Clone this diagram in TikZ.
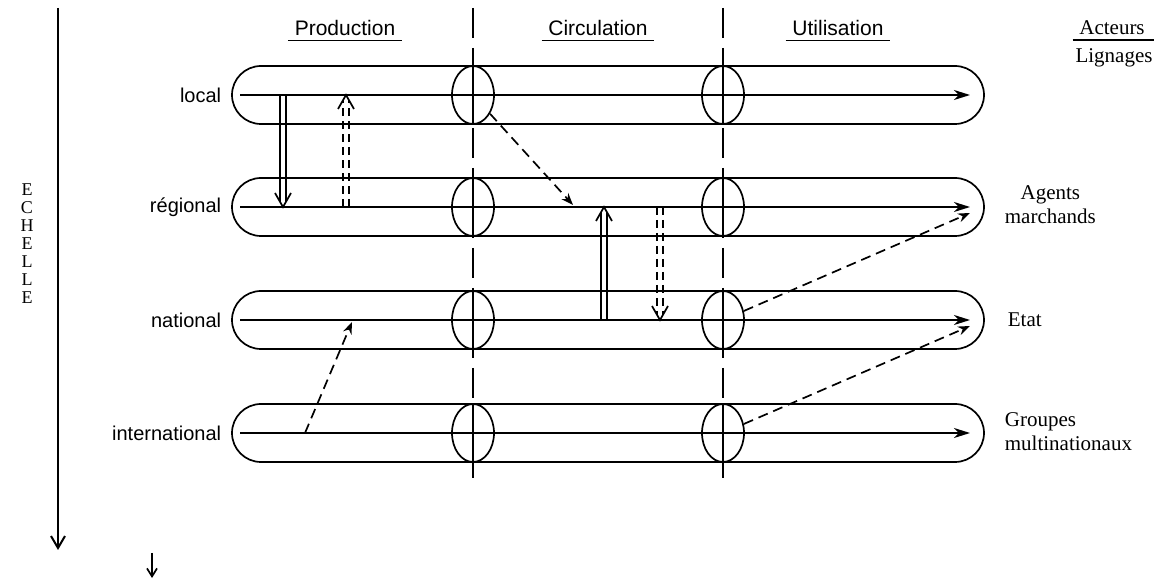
\documentclass[tikz,border=0pt]{standalone}
\usepackage{fontspec}
\setmainfont{Liberation Serif}
\setsansfont{Liberation Sans}
\usetikzlibrary{arrows.meta,shapes.geometric,calc}

% vertical arrow with a doubled shaft and an open V head
\newcommand\twinarrow[3]{%
  \draw[#1] ($(#2)+(-3,0)$) -- ($(#3)!2.6pt!(#2)+(-3,0)$);
  \draw[#1] ($(#2)+(3,0)$) -- ($(#3)!2.6pt!(#2)+(3,0)$);
  \draw[solid] ($(#3)!7pt!(#2)+(-8,0)$) -- (#3) -- ($(#3)!7pt!(#2)+(8,0)$);
}

\begin{document}
\begin{tikzpicture}[x=0.5pt,y=-0.5pt,
  line width=0.85pt,
  lane/.style={draw, rounded corners=14.5pt, minimum width=376pt,
    minimum height=29pt, inner sep=0pt},
  hub/.style={draw, ellipse, minimum width=21pt, minimum height=29pt, inner sep=0pt},
  flow/.style={-{Stealth[length=8pt,width=5pt,inset=2.5pt]}},
  link/.style={dash pattern=on 5pt off 3pt,
    -{Stealth[length=6pt,width=4.5pt,inset=2pt]}},
  twin/.style={dash pattern=on 4pt off 2.5pt},
  divider/.style={dash pattern=on 15pt off 5pt},
  head/.style={font=\sffamily\fontsize{10.5}{12}\selectfont, inner sep=2pt},
  level/.style={font=\sffamily\fontsize{10}{12}\selectfont, anchor=east, inner sep=0pt},
  actor/.style={font=\fontsize{10.5}{12}\selectfont, anchor=west, inner sep=0pt},
]
\useasboundingbox (0,0) rectangle (1157,582);

% column dividers
\coordinate (ctop) at (473,8);
\coordinate (cbot) at (473,487);
\coordinate (utop) at (723,8);
\coordinate (ubot) at (723,487);
\draw[divider] (ctop) -- (cbot);
\draw[divider] (utop) -- (ubot);

% the four scale lanes
\foreach \n/\y in {1/95,2/207,3/320,4/433} {
  \node[lane] (lane\n) at (608,\y) {};
  \node[hub] (circ\n) at (473,\y) {};
  \node[hub] (util\n) at (723,\y) {};
  \coordinate (start\n) at (240,\y);
  \coordinate (end\n) at (970,\y);
  \draw[flow] (start\n) -- (end\n);
  \draw (circ\n.north) -- (circ\n.south);
  \draw (util\n.north) -- (util\n.south);
}

% level labels
\node[level] (local) at (222,95) {local};
\node[level] (regional) at (222,207) {régional};
\node[level] (national) at (222,320) {national};
\node[level] (international) at (222,433) {international};

% column headings
\node[head] (prod) at (345,28) {Production};
\node[head] (circ) at (598,28) {Circulation};
\node[head] (util) at (838,28) {Utilisation};
\foreach \h in {prod,circ,util}
  \draw ($(\h.south west)+(-2,0)$) -- ($(\h.south east)+(2,0)$);

% actors column
\node[font=\fontsize{10.5}{12}\selectfont, inner sep=2pt] (acteurs) at (1112,28) {Acteurs};
\node[font=\fontsize{10.5}{12}\selectfont, inner sep=0pt] (lignages) at (1114,58) {Lignages};
\draw ($(acteurs.south west)+(-2,0)$) -- ($(acteurs.south east)+(4,0)$);
\node[actor, align=center] (agents) at (1004,205) {Agents\\marchands};
\node[actor] (etat) at (1007,320) {Etat};
\node[actor, align=left] (groupes) at (1004,432) {Groupes\\multinationaux};

% scale axis
\node[font=\fontsize{9}{9}\selectfont, align=center, inner sep=0pt] (echelle) at (27,244)
  {E\\C\\H\\E\\L\\L\\E};
\coordinate (axtop) at (58,8);
\coordinate (axbot) at (58,550);
\draw[line width=1pt, -{Straight Barb[length=6pt,width=7pt]}] (axtop) -- (axbot);
\coordinate (marktop) at (152,553);
\coordinate (markbot) at (152,578);
\draw[-{Straight Barb[length=4pt,width=5pt]}] (marktop) -- (markbot);

% exchanges between levels
\coordinate (a1) at (283,95);  \coordinate (a2) at (283,207);
\coordinate (b1) at (346,207); \coordinate (b2) at (346,95);
\coordinate (d1) at (604,320); \coordinate (d2) at (604,207);
\coordinate (e1) at (660,207); \coordinate (e2) at (660,320);
\twinarrow{solid}{a1}{a2}
\twinarrow{twin}{b1}{b2}
\twinarrow{solid}{d1}{d2}
\twinarrow{twin}{e1}{e2}

\coordinate (c2) at (573,205);
\draw[link] (circ1) -- (c2);
\coordinate (f1) at (305,433);
\coordinate (f2) at (352,322);
\draw[link] (f1) -- (f2);
\coordinate (g2) at (970,213);
\draw[link] (util3) -- (g2);
\coordinate (h2) at (970,326);
\draw[link] (util4) -- (h2);
\end{tikzpicture}
\end{document}
